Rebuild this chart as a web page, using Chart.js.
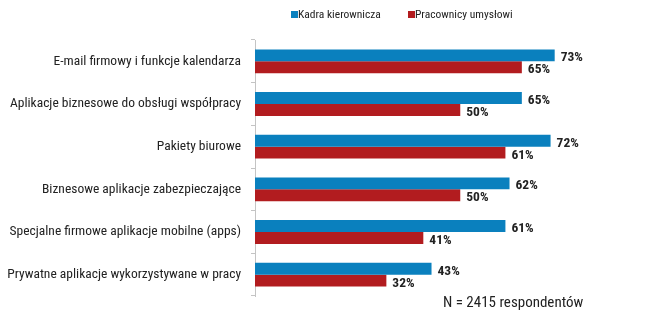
<!DOCTYPE html>
<html lang="pl">
<head>
<meta charset="UTF-8">
<title>Aplikacje w pracy</title>
<script src="https://cdn.jsdelivr.net/npm/chart.js"></script>
<style>
  html, body { margin: 0; padding: 0; background: #fff; }
  #wrap { width: 659px; height: 322px; }
</style>
</head>
<body>
<div id="wrap"><canvas id="chart" width="659" height="322"></canvas></div>
<script>
const categories = [
  "E-mail firmowy i funkcje kalendarza",
  "Aplikacje biznesowe do obsługi współpracy",
  "Pakiety biurowe",
  "Biznesowe aplikacje zabezpieczające",
  "Specjalne firmowe aplikacje mobilne (apps)",
  "Prywatne aplikacje wykorzystywane w pracy"
];
const seriesNames = ["Kadra kierownicza", "Pracownicy umysłowi"];
const managers = [73, 65, 72, 62, 61, 43];
const officeWorkers = [65, 50, 61, 50, 41, 32];
const footnote = "N = 2415 respondentów";

const FONT = "'Roboto Condensed', 'DejaVu Sans Condensed', sans-serif";
const BLUE = "#0a80be";
const RED = "#b21c1f";

// value labels at the end of each bar, legend at top, sample size below
const extras = {
  id: "extras",
  afterDatasetsDraw(chart) {
    const ctx = chart.ctx;
    ctx.save();
    ctx.font = "bold 13.5px " + FONT;
    ctx.fillStyle = "#222";
    ctx.textBaseline = "middle";
    ctx.textAlign = "left";
    chart.data.datasets.forEach((ds, i) => {
      chart.getDatasetMeta(i).data.forEach((bar, j) => {
        ctx.fillText(ds.data[j] + "%", bar.x + 6, bar.y + 2.5);
      });
    });

    // legend
    ctx.font = "11.5px " + FONT;
    let x = 291;
    const y = 15;
    chart.data.datasets.forEach((ds) => {
      ctx.fillStyle = ds.backgroundColor;
      ctx.fillRect(x, y - 4, 7, 7);
      ctx.fillStyle = "#222";
      ctx.fillText(ds.label, x + 7, y);
      x += 117;
    });

    ctx.font = "15px " + FONT;
    ctx.fillText(footnote, 443, 303);
    ctx.restore();
  }
};

new Chart(document.getElementById("chart"), {
  type: "bar",
  data: {
    labels: categories,
    datasets: [
      { label: seriesNames[0], data: managers, backgroundColor: BLUE },
      { label: seriesNames[1], data: officeWorkers, backgroundColor: RED }
    ]
  },
  options: {
    indexAxis: "y",
    responsive: false,
    animation: false,
    layout: { padding: { top: 40, bottom: 26, right: 14, left: 0 } },
    datasets: { bar: { categoryPercentage: 0.56, barPercentage: 1 } },
    plugins: { legend: { display: false }, tooltip: { enabled: false } },
    scales: {
      x: { display: false, min: 0, max: 95 },
      y: {
        afterFit(scale) { scale.width = 255; },
        grid: { drawOnChartArea: false, tickLength: 4, color: "#c4c4c4" },
        border: { color: "#c4c4c4" },
        ticks: { color: "#222", font: { family: FONT, size: 13.5 }, padding: 10 }
      }
    }
  },
  plugins: [extras]
});
</script>
</body>
</html>
